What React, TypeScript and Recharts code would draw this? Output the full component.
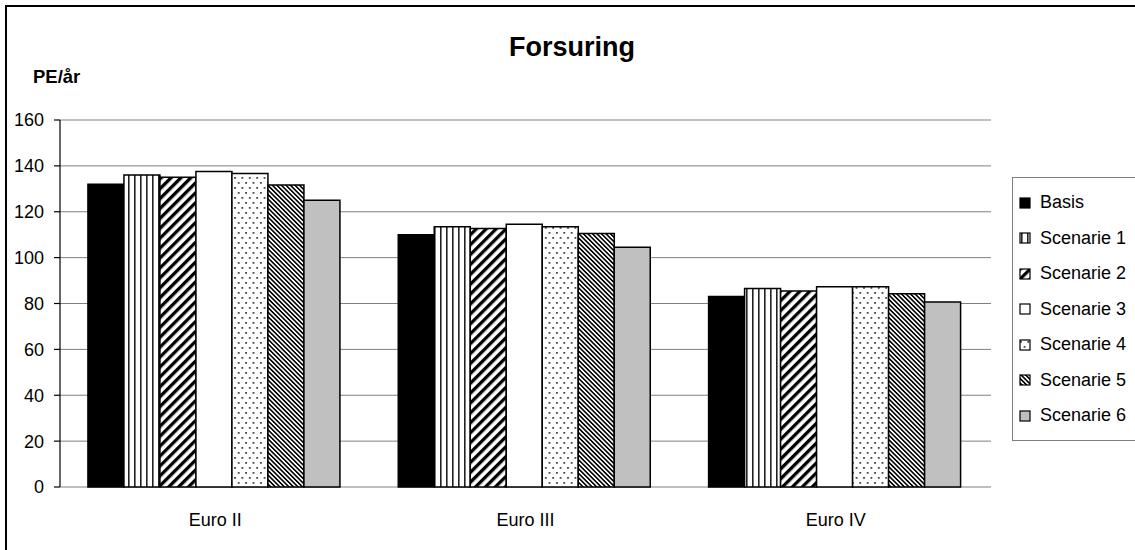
import { BarChart, Bar, XAxis, YAxis, CartesianGrid, Legend } from "recharts";

const categories = ["Euro II", "Euro III", "Euro IV"];
const basis = [132, 110, 83];
const scenarie1 = [136, 113.5, 86.5];
const scenarie2 = [135, 112.7, 85.5];
const scenarie3 = [137.5, 114.5, 87.3];
const scenarie4 = [136.7, 113.5, 87.3];
const scenarie5 = [131.7, 110.5, 84.2];
const scenarie6 = [125, 104.5, 80.7];
const yTicks = [0, 20, 40, 60, 80, 100, 120, 140, 160];
const boundaryTicks = [0, 1, 2, 3];

const series = [
  { key: "basis", name: "Basis", values: basis, fill: "#000000" },
  { key: "s1", name: "Scenarie 1", values: scenarie1, fill: "url(#pVert)" },
  { key: "s2", name: "Scenarie 2", values: scenarie2, fill: "url(#pWide)" },
  { key: "s3", name: "Scenarie 3", values: scenarie3, fill: "#ffffff" },
  { key: "s4", name: "Scenarie 4", values: scenarie4, fill: "url(#pDots)" },
  { key: "s5", name: "Scenarie 5", values: scenarie5, fill: "url(#pNarrow)" },
  { key: "s6", name: "Scenarie 6", values: scenarie6, fill: "#c0c0c0" },
];

const data = categories.map((name, i) => {
  const row: Record<string, string | number> = { name, pos: i + 0.5 };
  series.forEach((s) => (row[s.key] = s.values[i]));
  return row;
});

const font = "'Liberation Sans', Arial, sans-serif";

const LegendBox = () => (
  <div
    style={{
      border: "1px solid #808080",
      background: "#fff",
      width: 140,
      padding: "7px 0 6px 6px",
      fontFamily: font,
      fontSize: 18,
      color: "#000",
    }}
  >
    {series.map((s) => (
      <div
        key={s.key}
        style={{ height: 35.5, display: "flex", alignItems: "center" }}
      >
        <svg width={12} height={12} style={{ marginRight: 9 }}>
          <rect x={1} y={1} width={10} height={10} fill={s.fill} stroke="#000" strokeWidth={1.2} />
        </svg>
        <span>{s.name}</span>
      </div>
    ))}
  </div>
);

export default function App() {
  return (
    <div
      style={{
        position: "fixed",
        left: 0,
        top: 0,
        width: 1135,
        height: 550,
        overflow: "hidden",
        background: "#fff",
      }}
    >
      <div
        style={{
          position: "absolute",
          left: 5,
          top: 5,
          width: 1200,
          height: 600,
          border: "2px solid #000",
        }}
      />
      <div
        style={{
          position: "absolute",
          left: 0,
          top: 32,
          width: 1144,
          textAlign: "center",
          fontFamily: font,
          fontWeight: "bold",
          fontSize: 27,
        }}
      >
        Forsuring
      </div>
      <div
        style={{
          position: "absolute",
          left: 33,
          top: 66,
          fontFamily: font,
          fontWeight: "bold",
          fontSize: 18.5,
        }}
      >
        PE/år
      </div>
      <div style={{ position: "absolute", left: 0, top: 0 }}>
        <BarChart
          width={1135}
          height={550}
          data={data}
          margin={{ top: 120, right: 144, bottom: 33, left: 0 }}
          barCategoryGap="9%"
          barGap={0}
        >
          <defs>
            <pattern id="pVert" patternUnits="userSpaceOnUse" width={6} height={6}>
              <rect width={6} height={6} fill="#fff" />
              <rect x={2} width={1.6} height={6} fill="#222" />
            </pattern>
            <pattern
              id="pWide"
              patternUnits="userSpaceOnUse"
              width={7}
              height={7}
              patternTransform="rotate(45)"
            >
              <rect width={7} height={7} fill="#fff" />
              <rect width={3.3} height={7} fill="#000" />
            </pattern>
            <pattern
              id="pNarrow"
              patternUnits="userSpaceOnUse"
              width={3.2}
              height={4}
              patternTransform="rotate(-45)"
            >
              <rect width={3.2} height={4} fill="#fff" />
              <rect width={1.6} height={4} fill="#000" />
            </pattern>
            <pattern id="pDots" patternUnits="userSpaceOnUse" width={7.4} height={10}>
              <rect width={7.4} height={10} fill="#fff" />
              <rect x={1} y={2} width={1.8} height={1.8} fill="#444" />
              <rect x={4.7} y={7} width={1.8} height={1.8} fill="#444" />
            </pattern>
          </defs>
          <CartesianGrid vertical={false} stroke="#808080" strokeWidth={1} />
          <XAxis
            dataKey="name"
            tickLine={false}
            axisLine={false}
            tickMargin={20}
            height={30}
            tick={{ fill: "#000", fontSize: 18, fontFamily: font }}
          />
          <XAxis
            xAxisId="bounds"
            type="number"
            dataKey="pos"
            domain={[0, 3]}
            ticks={boundaryTicks}
            tick={false}
            height={0}
            tickSize={6}
            stroke="#000"
            axisLine={{ stroke: "#000", strokeWidth: 1.2 }}
            tickLine={{ stroke: "#000", strokeWidth: 1.2 }}
          />
          <YAxis
            domain={[0, 160]}
            ticks={yTicks}
            width={60}
            tickSize={6}
            tickMargin={10}
            interval={0}
            axisLine={{ stroke: "#000", strokeWidth: 1.2 }}
            tickLine={{ stroke: "#000", strokeWidth: 1.2 }}
            tick={{ fill: "#000", fontSize: 18, fontFamily: font }}
          />
          <YAxis
            yAxisId="frame"
            orientation="right"
            domain={[0, 160]}
            width={0}
            tick={false}
            tickLine={false}
            axisLine={{ stroke: "#808080", strokeWidth: 1 }}
          />
          <Legend
            layout="vertical"
            align="center"
            verticalAlign="middle"
            wrapperStyle={{ left: 1012, top: 177, width: 150 }}
            content={() => <LegendBox />}
          />
          {series.map((s) => (
            <Bar
              key={s.key}
              dataKey={s.key}
              name={s.name}
              fill={s.fill}
              stroke="#000"
              strokeWidth={1.5}
              isAnimationActive={false}
            />
          ))}
        </BarChart>
      </div>
    </div>
  );
}
